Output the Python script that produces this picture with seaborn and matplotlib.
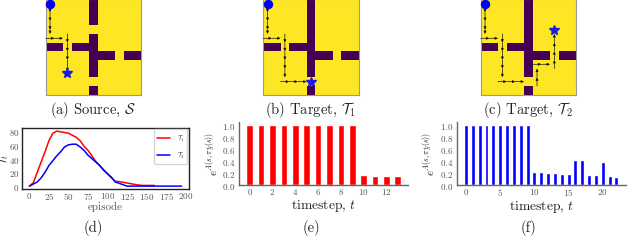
import matplotlib
matplotlib.use('Agg')
import matplotlib.pyplot as plt
import seaborn as sns

sns.set_style('white')
plt.rcParams['font.family'] = ['cmr10', 'DejaVu Serif']
plt.rcParams['mathtext.fontset'] = 'cm'
plt.rcParams['axes.formatter.use_mathtext'] = True
plt.rcParams['axes.unicode_minus'] = False

# gridworld maps, 1 = free cell, 0 = wall
grid_source = [
    [1, 1, 1, 1, 1, 0, 1, 1, 1, 1, 1],
    [1, 1, 1, 1, 1, 0, 1, 1, 1, 1, 1],
    [1, 1, 1, 1, 1, 0, 1, 1, 1, 1, 1],
    [1, 1, 1, 1, 1, 1, 1, 1, 1, 1, 1],
    [1, 1, 1, 1, 1, 0, 1, 1, 1, 1, 1],
    [0, 0, 1, 0, 0, 0, 1, 1, 1, 1, 1],
    [1, 1, 1, 1, 1, 0, 0, 0, 1, 0, 0],
    [1, 1, 1, 1, 1, 0, 1, 1, 1, 1, 1],
    [1, 1, 1, 1, 1, 0, 1, 1, 1, 1, 1],
    [1, 1, 1, 1, 1, 1, 1, 1, 1, 1, 1],
    [1, 1, 1, 1, 1, 0, 1, 1, 1, 1, 1],
]
grid_target = [
    [1, 1, 1, 1, 1, 0, 1, 1, 1, 1, 1],
    [1, 1, 1, 1, 1, 0, 1, 1, 1, 1, 1],
    [1, 1, 1, 1, 1, 0, 1, 1, 1, 1, 1],
    [1, 1, 1, 1, 1, 0, 1, 1, 1, 1, 1],
    [1, 1, 1, 1, 1, 0, 1, 1, 1, 1, 1],
    [0, 0, 1, 0, 0, 0, 1, 1, 1, 1, 1],
    [1, 1, 1, 1, 1, 0, 0, 0, 1, 0, 0],
    [1, 1, 1, 1, 1, 0, 1, 1, 1, 1, 1],
    [1, 1, 1, 1, 1, 0, 1, 1, 1, 1, 1],
    [1, 1, 1, 1, 1, 1, 1, 1, 1, 1, 1],
    [1, 1, 1, 1, 1, 0, 1, 1, 1, 1, 1],
]

# trajectory legs in cell coordinates, one point per step
leg_down = [(0.5, 0.5), (0.5, 1.5), (0.5, 2.5), (0.5, 3.5), (0.5, 4.0)]
leg_side = [(0, 4.5), (1, 4.5), (2, 4.5)]
leg_a = [(2.5, 4), (2.5, 5), (2.5, 6), (2.5, 7), (2.5, 8.3)]
leg_b = [(2.5, 4), (2.5, 5), (2.5, 6), (2.5, 7), (2.5, 8), (2.5, 9)]
leg_b2 = [(2, 9.5), (3, 9.5), (4, 9.5), (5, 9.5)]
leg_c = [(2.5, 4), (2.5, 5), (2.5, 6), (2.5, 7), (2.5, 8), (2.5, 9)]
leg_c2 = [(2, 9.5), (3, 9.5), (4, 9.5), (5, 9.5)]
leg_c3 = [(6.5, 10), (6.5, 9), (6.5, 8)]
leg_c4 = [(6, 7.5), (7, 7.5), (8, 7.5)]
leg_c5 = [(8.5, 8), (8.5, 7), (8.5, 6), (8.5, 5), (8.5, 4)]

star_a = (2.5, 8.5)
star_b = (5.5, 9.5)
star_c = (8.5, 3.5)

# panel d
episodes_red = [0, 5, 10, 15, 20, 25, 30, 35, 40, 45, 50, 55, 60, 65, 70, 75, 80, 85, 90, 95, 100,
                105, 110, 115, 120, 125, 130, 135, 140, 145, 150, 155, 160]
tau1 = [0, 5, 20, 35, 50, 66, 77, 80, 79, 78, 77, 74, 71, 66, 58, 52, 44, 36, 30, 24, 18,
        12, 7, 6.5, 5.5, 4.5, 3.5, 2.5, 1.5, 1, 1, 1, 1]
episodes_blue = [0, 5, 10, 15, 20, 25, 30, 35, 40, 45, 50, 55, 60, 65, 70, 75, 80, 85, 90, 95, 100,
                 105, 110, 115, 120, 125, 130, 140, 150, 160, 170, 180, 195]
tau2 = [0, 3, 6, 12, 20, 30, 37, 44, 50, 57, 60, 61, 61, 57, 52, 45, 40, 35, 30, 23, 18,
        13, 6, 4, 2, 0, 0, 0, 0, 0, 0, 0, 0]

# panels e, f
steps_e = list(range(14))
ratio_e = [1, 1, 1, 1, 1, 1, 1, 1, 1, 1, 0.16, 0.15, 0.145, 0.14]
steps_f = list(range(23))
ratio_f = [1, 1, 1, 1, 1, 1, 1, 1, 1, 1, 0.21, 0.205, 0.2, 0.19, 0.185, 0.18, 0.41, 0.41,
           0.16, 0.155, 0.38, 0.14, 0.135]

W, H = 640, 253
GREY = '#555555'
RED_BAR = '#ff0000'
BLUE_BAR = '#0000ff'


def px_axes(fig, left, top, right, bottom):
    return fig.add_axes([left / W, 1 - bottom / H, (right - left) / W, (bottom - top) / H])


def draw_leg(ax, pts):
    for p, q in zip(pts[:-1], pts[1:]):
        ax.annotate('', xy=q, xytext=p,
                    arrowprops=dict(arrowstyle='-|>,head_length=0.2,head_width=0.09', color='#111111',
                                    lw=0.5, shrinkA=0, shrinkB=0, mutation_scale=8))


def draw_world(fig, left, grid, legs, star):
    ax = px_axes(fig, left, 0.3, left + 95.3, 95.6)
    sns.heatmap(grid, cmap='viridis', vmin=0, vmax=1, cbar=False, square=False,
                xticklabels=False, yticklabels=False, ax=ax)
    for leg in legs:
        draw_leg(ax, leg)
    ax.plot(0.5, 0.5, 'o', color='#0000ff', ms=5.8, clip_on=False, zorder=5)
    ax.plot(star[0], star[1], '*', color='#1a1ae6', ms=7.5, zorder=5)
    for s in ax.spines.values():
        s.set_visible(True)
        s.set_color('#999999')
        s.set_linewidth(0.8)
    return ax


fig = plt.figure(figsize=(W / 100, H / 100), dpi=100)

draw_world(fig, 45.7, grid_source, [leg_down, leg_side, leg_a], star_a)
draw_world(fig, 263.2, grid_target, [leg_down, leg_side, leg_b, leg_b2], star_b)
draw_world(fig, 480.7, grid_target, [leg_down, leg_side, leg_c, leg_c2, leg_c3, leg_c4, leg_c5], star_c)

# episode curves
ax_d = px_axes(fig, 22, 128.7, 188.7, 190)
sns.lineplot(x=episodes_red, y=tau1, color='#ff0000', lw=1.1, label=r'$\mathcal{T}_1$', ax=ax_d)
sns.lineplot(x=episodes_blue, y=tau2, color='#0000ff', lw=1.1, label=r'$\mathcal{T}_2$', ax=ax_d)
ax_d.set_xlim(-9.5, 204)
ax_d.set_ylim(-4.2, 85)
ax_d.set_xticks(range(0, 201, 25))
ax_d.set_yticks(range(0, 81, 20))
ax_d.tick_params(axis='x', labelsize=6.5, colors=GREY, length=0, pad=0.5)
ax_d.tick_params(axis='y', labelsize=6.5, colors=GREY, length=0, pad=2)
ax_d.set_xlabel('episode', fontsize=8, color=GREY, labelpad=0.5)
ax_d.set_ylabel(r'$\mathcal{T}_t$', fontsize=8, color='#222222')
ax_d.yaxis.set_label_coords(-0.067, 0.5)
ax_d.legend(fontsize=4.5, loc='upper right', borderaxespad=0.2, handlelength=2.1, labelspacing=1.0,
            borderpad=0.5, handletextpad=1.0)
for s in ax_d.spines.values():
    s.set_color('#222222')
    s.set_linewidth(1)


def draw_bars(ax, steps, vals, color, xlim, xticks):
    sns.barplot(x=steps, y=vals, color=color, width=0.58, native_scale=True, saturation=1, ax=ax)
    ax.set_xlim(*xlim)
    ax.set_ylim(0, 1.05)
    ax.set_xticks(xticks)
    ax.set_yticks([0, 0.2, 0.4, 0.6, 0.8, 1.0])
    ax.tick_params(axis='x', labelsize=6.5, colors=GREY, length=0, pad=1)
    ax.tick_params(axis='y', labelsize=6.5, colors=GREY, length=0, pad=2.5)
    ax.set_xlabel(r'timestep, $t$', fontsize=9.8, color='#222222', labelpad=1)
    ax.set_ylabel(r'$e^{A(s,\pi_S^{*}(s))}$', fontsize=8, color='#222222')
    ax.yaxis.set_label_coords(-0.115, 0.5)
    sns.despine(ax=ax)
    for side in ['left', 'bottom']:
        ax.spines[side].set_color('#666666')
        ax.spines[side].set_linewidth(1)


ax_e = px_axes(fig, 239, 122.7, 408, 185.7)
draw_bars(ax_e, steps_e, ratio_e, RED_BAR, (-0.94, 13.9), range(0, 13, 2))

ax_f = px_axes(fig, 456.7, 122.7, 626, 185.7)
draw_bars(ax_f, steps_f, ratio_f, BLUE_BAR, (-1.36, 23.4), range(0, 21, 5))

captions = [
    (93, 110, r'(a) Source, $\mathcal{S}$'),
    (310, 110, r'(b) Target, $\mathcal{T}_1$'),
    (528, 110, r'(c) Target, $\mathcal{T}_2$'),
    (93, 228, '(d)'),
    (311, 228, '(e)'),
    (528, 228, '(f)'),
]
for cx, cy, label in captions:
    fig.text(cx / W, 1 - cy / H, label, ha='center', va='center', fontsize=10.5, color='#222222')

fig.savefig('out.png', dpi=100)
